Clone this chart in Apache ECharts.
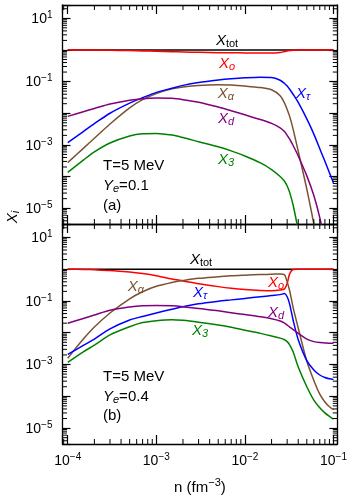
<!DOCTYPE html>
<html><head><meta charset="utf-8">
<script src="https://cdn.jsdelivr.net/npm/echarts@6/dist/echarts.min.js"></script>
<style>html,body{margin:0;padding:0;background:#fff}#c{width:354px;height:500px}</style>
</head><body><div id="c"></div>
<script>
// ---------------- data ----------------
// baryon density n (fm^-3)
const density = [1e-4,1.5e-4,2e-4,3e-4,5e-4,7e-4,1e-3,1.5e-3,2e-3,3e-3,5e-3,7e-3,1e-2,1.5e-2,2e-2,2.5e-2,2.8e-2,3e-2,3.2e-2,3.5e-2,4e-2,5e-2,6e-2,7e-2,8e-2,9e-2,1e-1];

// panel (a): T = 5 MeV, Ye = 0.1
const a_tot   = [1,1,1,1,1,1,1,1,1,1,1,1,1,1,1,1,1,1,1,1,1,1,1,1,1,1,1];
const a_o     = [1.0,1.0,0.99,0.98,0.955,0.933,0.912,0.881,0.861,0.841,0.822,0.813,0.804,0.794,0.794,0.832,0.891,0.923,0.955,0.977,1.0,1.0,1.0,1.0,1.0,1.0,1.0];
const a_alpha = [2.75e-4,7.76e-4,1.62e-3,4.57e-3,1.48e-2,2.69e-2,4.17e-2,5.89e-2,6.76e-2,7.59e-2,7.94e-2,7.76e-2,7.24e-2,6.46e-2,5.50e-2,3.55e-2,2.09e-2,1.32e-2,7.94e-3,3.16e-3,6.31e-4,3.98e-5,3.16e-6,3.16e-7,null,null,null];
const a_tau   = [1.17e-3,2.63e-3,4.68e-3,1.0e-2,2.09e-2,3.09e-2,4.57e-2,6.17e-2,7.59e-2,9.33e-2,0.112,0.123,0.132,0.138,0.135,0.110,8.71e-2,7.24e-2,5.75e-2,3.98e-2,2.19e-2,6.61e-3,2.19e-3,7.59e-4,3.02e-4,1.32e-4,6.31e-5];
const a_d     = [7.94e-3,1.12e-2,1.41e-2,1.95e-2,2.57e-2,2.88e-2,3.02e-2,2.95e-2,2.69e-2,2.24e-2,1.58e-2,1.20e-2,8.91e-3,6.31e-3,4.79e-3,3.47e-3,2.63e-3,2.0e-3,1.51e-3,9.55e-4,4.47e-4,1.05e-4,2.51e-5,5.01e-6,7.94e-7,null,null];
const a_3     = [1.35e-4,3.31e-4,6.03e-4,1.15e-3,1.91e-3,2.24e-3,2.29e-3,2.04e-3,1.70e-3,1.26e-3,8.71e-4,6.46e-4,4.47e-4,2.69e-4,1.66e-4,1.0e-4,7.08e-5,5.01e-5,3.16e-5,1.26e-5,2.0e-6,null,null,null,null,null,null];

// panel (b): T = 5 MeV, Ye = 0.4
const b_tot   = [1,1,1,1,1,1,1,1,1,1,1,1,1,1,1,1,1,1,1,1,1,1,1,1,1,1,1];
const b_o     = [1.0,0.977,0.955,0.912,0.813,0.724,0.617,0.490,0.427,0.347,0.282,0.251,0.229,0.214,0.209,0.219,0.240,0.355,0.708,0.977,1.0,1.0,1.0,1.0,1.0,1.0,1.0];
const b_alpha = [1.58e-3,6.31e-3,1.51e-2,4.17e-2,0.117,0.195,0.288,0.380,0.437,0.513,0.575,0.617,0.646,0.676,0.692,0.708,0.661,0.398,0.209,6.31e-2,1.41e-2,1.26e-3,3.16e-4,1.17e-4,6.61e-5,4.68e-5,3.80e-5];
const b_tau   = [2.09e-3,3.98e-3,6.31e-3,1.32e-2,2.51e-2,3.24e-2,4.17e-2,5.50e-2,6.61e-2,8.13e-2,9.77e-2,0.108,0.120,0.135,0.148,0.158,0.170,0.135,7.94e-2,2.51e-2,6.03e-3,1.32e-3,6.76e-4,4.68e-4,3.89e-4,3.55e-4,3.39e-4];
const b_d     = [2.0e-2,2.82e-2,3.63e-2,5.13e-2,6.46e-2,7.08e-2,7.24e-2,7.08e-2,6.61e-2,5.75e-2,4.90e-2,4.27e-2,3.72e-2,3.16e-2,2.75e-2,2.34e-2,2.0e-2,1.74e-2,1.51e-2,1.26e-2,9.55e-3,6.31e-3,5.25e-3,4.90e-3,4.79e-3,4.68e-3,4.68e-3];
const b_3     = [1.17e-3,2.51e-3,4.07e-3,8.51e-3,1.55e-2,2.09e-2,2.40e-2,2.57e-2,2.45e-2,2.14e-2,1.74e-2,1.48e-2,1.20e-2,9.55e-3,7.94e-3,6.76e-3,6.03e-3,5.25e-3,4.17e-3,2.51e-3,8.32e-4,2.0e-4,7.59e-5,4.37e-5,3.02e-5,2.34e-5,1.91e-5];

// tick decades (exponents) and log-minor multipliers
const xDecades = [-5,-4,-3,-2,-1];
const yDecades = [-6,-5,-4,-3,-2,-1,0,1];
const minorMult = [2,3,4,5,6,7,8,9];

// ---------------- layout / style ----------------
const FONT = '"Liberation Sans", Arial, Helvetica, sans-serif';
const X_MIN = -4.059, X_MAX = -0.957, Y_MIN = -5.5, Y_MAX = 1.42;
const COL = {tot:'#000000', o:'#ff0000', alpha:'#7b5231', tau:'#0000ff', d:'#800080', three:'#008000'};
const MAJOR_X = 9, MINOR_X = 5, MAJOR_Y = 8, MINOR_Y = 4.5;

const minorX = [];
xDecades.forEach(d => minorMult.forEach(k => { const v = d + Math.log10(k); if (v > X_MIN && v < X_MAX) minorX.push(v); }));
const minorY = [];
yDecades.forEach(d => minorMult.forEach(k => { const v = d + Math.log10(k); if (v > Y_MIN && v < Y_MAX) minorY.push(v); }));

const powRich = {
  b: {fontSize: 14, fontFamily: FONT, color: '#000', lineHeight: 16, verticalAlign: 'bottom'},
  s: {fontSize: 10, fontFamily: FONT, color: '#000', lineHeight: 8, verticalAlign: 'top'}
};
function isInt(v) { return Math.abs(v - Math.round(v)) < 1e-6; }
function powText(r) { return '{b|10}{s|' + (r < 0 ? '\u2212' : '') + Math.abs(r) + '}'; }
function xLab(v) { return isInt(v) ? powText(Math.round(v)) : ''; }
function yLab(v) { if (!isInt(v)) return ''; const r = Math.round(v); return (r % 2 !== 0) ? powText(r) : ''; }

const axisLineStyle = {show: true, onZero: false, lineStyle: {color: '#000', width: 1.3}};
function xAxisDef(grid, pos, showLabel) {
  const ax = {
    type: 'value', gridIndex: grid, position: pos, min: X_MIN, max: X_MAX, splitNumber: 3,
    axisLine: axisLineStyle,
    axisTick: {show: true, inside: true, length: MAJOR_X, lineStyle: {color: '#000', width: 1.2}},
    splitLine: {show: false}, minorTick: {show: false},
    axisLabel: {show: showLabel, margin: 8, formatter: xLab, rich: powRich, showMinLabel: true, showMaxLabel: true, hideOverlap: false}
  };
  if (showLabel) {
    ax.name = '{n|n (fm}{s|\u22123}{n|)}';
    ax.nameLocation = 'middle';
    ax.nameGap = 33;
    ax.nameTextStyle = {rich: {
      n: {fontSize: 15, fontFamily: FONT, color: '#000', lineHeight: 18, verticalAlign: 'bottom'},
      s: {fontSize: 11, fontFamily: FONT, color: '#000', lineHeight: 9, verticalAlign: 'top'}
    }};
  }
  return ax;
}
function yAxisDef(grid, pos, showLabel) {
  return {
    type: 'value', gridIndex: grid, position: pos, min: Y_MIN, max: Y_MAX, splitNumber: 7,
    axisLine: axisLineStyle,
    axisTick: {show: true, inside: true, length: MAJOR_Y, lineStyle: {color: '#000', width: 1.2}},
    splitLine: {show: false}, minorTick: {show: false},
    axisLabel: {show: showLabel, margin: 10, formatter: yLab, rich: powRich, hideOverlap: false}
  };
}

function lineSeries(name, vals, color, xi, yi) {
  const data = [];
  density.forEach((n, i) => { if (vals[i] != null) data.push([Math.log10(n), Math.log10(vals[i])]); });
  return {
    type: 'line', name, xAxisIndex: xi, yAxisIndex: yi, data,
    showSymbol: false, symbol: 'none', smooth: 0.3, clip: true, silent: true,
    lineStyle: {color, width: 1.5, join: 'round'}, itemStyle: {color}, z: 3
  };
}

function minorTickSeries(xi, yi) {
  const items = minorX.map(v => ({a: 'x', v})).concat(minorY.map(v => ({a: 'y', v})));
  return {
    type: 'custom', xAxisIndex: xi, yAxisIndex: yi, silent: true, z: 4,
    data: items.map(t => t.a === 'x' ? [t.v, Y_MIN] : [X_MIN, t.v]),
    renderItem(params, api) {
      const t = items[params.dataIndex];
      const st = {stroke: '#000', lineWidth: 1};
      const ch = [];
      if (t.a === 'x') {
        const b = api.coord([t.v, Y_MIN]), tp = api.coord([t.v, Y_MAX]);
        ch.push({type: 'line', shape: {x1: b[0], y1: b[1], x2: b[0], y2: b[1] - MINOR_X}, style: st});
        ch.push({type: 'line', shape: {x1: tp[0], y1: tp[1], x2: tp[0], y2: tp[1] + MINOR_X}, style: st});
      } else {
        const l = api.coord([X_MIN, t.v]), r = api.coord([X_MAX, t.v]);
        ch.push({type: 'line', shape: {x1: l[0], y1: l[1], x2: l[0] + MINOR_Y, y2: l[1]}, style: st});
        ch.push({type: 'line', shape: {x1: r[0], y1: r[1], x2: r[0] - MINOR_Y, y2: r[1]}, style: st});
      }
      return {type: 'group', children: ch};
    }
  };
}

// rich text styles for curve labels
function labRich(color) {
  return {
    x: {fontSize: 15, fontFamily: FONT, fontStyle: 'italic', fill: color, color: color, lineHeight: 16, verticalAlign: 'top'},
    i: {fontSize: 11, fontFamily: FONT, fontStyle: 'italic', fill: color, color: color, lineHeight: 4, verticalAlign: 'bottom'},
    u: {fontSize: 11, fontFamily: FONT, fill: color, color: color, lineHeight: 4, verticalAlign: 'bottom'},
    t: {fontSize: 15, fontFamily: FONT, fill: color, color: color, lineHeight: 16, verticalAlign: 'top'}
  };
}
function txt(x, y, text, color, align) {
  return {type: 'text', x, y, silent: true, z: 10,
    style: {text, rich: labRich(color), fill: color, font: '15px ' + FONT, align: align || 'center', verticalAlign: 'middle'}};
}

const graphics = [
  // panel (a) curve labels
  txt(227, 41, '{x|X}{u|tot}', COL.tot),
  txt(227, 64, '{x|X}{i|o}', COL.o),
  txt(226, 94, '{x|X}{i|\u03b1}', COL.alpha),
  txt(303, 94, '{x|X}{i|\u03c4}', COL.tau),
  txt(226, 119, '{x|X}{i|d}', COL.d),
  txt(226, 160, '{x|X}{i|3}', COL.three),
  // panel (b) curve labels
  txt(201, 260, '{x|X}{u|tot}', COL.tot),
  txt(276, 283, '{x|X}{i|o}', COL.o),
  txt(136, 287, '{x|X}{i|\u03b1}', COL.alpha),
  txt(200, 293, '{x|X}{i|\u03c4}', COL.tau),
  txt(276, 313, '{x|X}{i|d}', COL.d),
  txt(200, 331, '{x|X}{i|3}', COL.three),
  // conditions
  txt(103, 166, '{t|T=5 MeV}', '#000', 'left'),
  txt(103, 186, '{x|Y}{i|e}{t|=0.1}', '#000', 'left'),
  txt(103, 206, '{t|(a)}', '#000', 'left'),
  txt(103, 377, '{t|T=5 MeV}', '#000', 'left'),
  txt(103, 397, '{x|Y}{i|e}{t|=0.4}', '#000', 'left'),
  txt(103, 416, '{t|(b)}', '#000', 'left'),
  // y axis title
  {type: 'text', x: 13, y: 217, rotation: Math.PI / 2, silent: true,
   style: {text: '{x|X}{i|i}', rich: labRich('#000'), fill: '#000', align: 'center', verticalAlign: 'middle'}}
];

const chart = echarts.init(document.getElementById('c'), null, {renderer: 'canvas'});
chart.setOption({
  animation: false,
  backgroundColor: '#fff',
  grid: [
    {left: 62.5, right: 16.7, top: 5, height: 219, containLabel: false, outerBoundsMode: 'none'},
    {left: 62.5, right: 16.7, top: 224, height: 220, containLabel: false, outerBoundsMode: 'none'}
  ],
  xAxis: [xAxisDef(0, 'bottom', false), xAxisDef(0, 'top', false), xAxisDef(1, 'bottom', true), xAxisDef(1, 'top', false)],
  yAxis: [yAxisDef(0, 'left', true), yAxisDef(0, 'right', false), yAxisDef(1, 'left', true), yAxisDef(1, 'right', false)],
  series: [
    lineSeries('a_tot', a_tot, COL.tot, 0, 0),
    lineSeries('a_o', a_o, COL.o, 0, 0),
    lineSeries('a_alpha', a_alpha, COL.alpha, 0, 0),
    lineSeries('a_tau', a_tau, COL.tau, 0, 0),
    lineSeries('a_d', a_d, COL.d, 0, 0),
    lineSeries('a_3', a_3, COL.three, 0, 0),
    lineSeries('b_tot', b_tot, COL.tot, 2, 2),
    lineSeries('b_o', b_o, COL.o, 2, 2),
    lineSeries('b_alpha', b_alpha, COL.alpha, 2, 2),
    lineSeries('b_tau', b_tau, COL.tau, 2, 2),
    lineSeries('b_d', b_d, COL.d, 2, 2),
    lineSeries('b_3', b_3, COL.three, 2, 2),
    minorTickSeries(0, 0),
    minorTickSeries(2, 2)
  ],
  graphic: graphics
});
</script>
</body></html>
